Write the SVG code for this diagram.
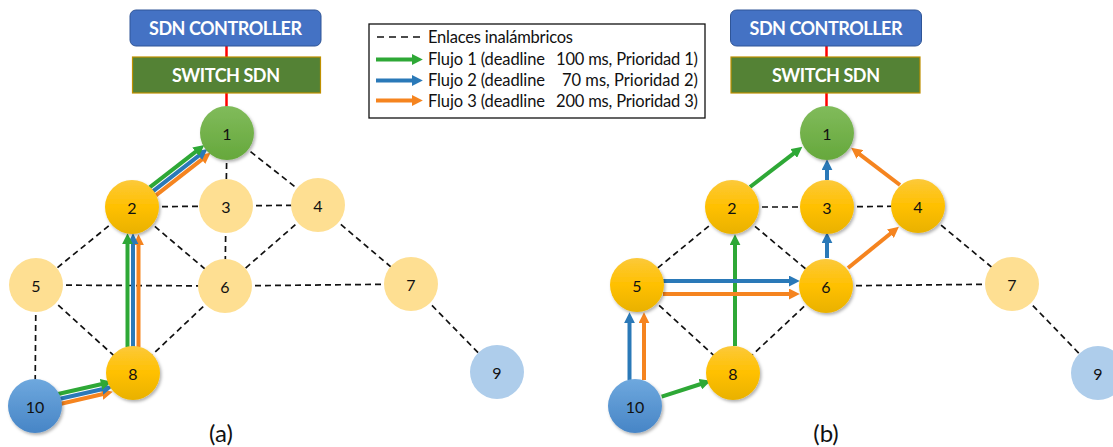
<svg xmlns="http://www.w3.org/2000/svg" width="1113" height="447" viewBox="0 0 1113 447">
  <style>
    text { font-family: Lato, "Open Sans", "Liberation Sans", sans-serif; }
    .ctl { fill: #4472C4; stroke: #2F5597; stroke-width: 1; }
    .sw { fill: #548235; stroke: #BF9000; stroke-width: 1.2; }
    .boxtxt { fill: #ffffff; font-weight: bold; font-size: 18px; text-anchor: middle; }
    .uplink { stroke: #FF0000; stroke-width: 2.5; }
    .wl { stroke: #111; stroke-width: 1.7; stroke-dasharray: 6 4; fill: none; }
    .num { font-size: 16px; fill: #111; text-anchor: middle; dominant-baseline: central; }
    .lg { font-size: 16.5px; fill: #111; }
    .f1 { stroke: #2EA836; stroke-width: 4; marker-end: url(#hg); }
    .f2 { stroke: #2A79B8; stroke-width: 4; marker-end: url(#hb); }
    .f3 { stroke: #F5841F; stroke-width: 4; marker-end: url(#ho); }
    .pale { fill: #FEDF92; }
    .pblue { fill: #AECDEB; }
    .gold { fill: url(#gGold); filter: url(#sh); }
    .green { fill: url(#gGreen); filter: url(#sh); }
    .blue { fill: url(#gBlue); filter: url(#sh); }
    .cap { font-size: 24px; fill: #111; text-anchor: middle; }
  </style>
  <defs>
    <linearGradient id="gGold" x1="0" y1="0" x2="0" y2="1">
      <stop offset="0" stop-color="#FCC93A"/>
      <stop offset="0.5" stop-color="#FFC000"/>
      <stop offset="1" stop-color="#E9B103"/>
    </linearGradient>
    <linearGradient id="gGreen" x1="0" y1="0" x2="0" y2="1">
      <stop offset="0" stop-color="#81BB5B"/>
      <stop offset="1" stop-color="#66A83C"/>
    </linearGradient>
    <linearGradient id="gBlue" x1="0" y1="0" x2="0" y2="1">
      <stop offset="0" stop-color="#6EA8DE"/>
      <stop offset="1" stop-color="#4785C6"/>
    </linearGradient>
    <filter id="sh" x="-30%" y="-30%" width="160%" height="160%">
      <feDropShadow dx="1.5" dy="2" stdDeviation="1.5" flood-color="#000" flood-opacity="0.3"/>
    </filter>
    <marker id="hg" viewBox="0 0 10 10" markerUnits="userSpaceOnUse" markerWidth="11" markerHeight="11" refX="2" refY="5" orient="auto">
      <path d="M0,0 L10,5 L0,10 z" fill="#2EA836"/>
    </marker>
    <marker id="hb" viewBox="0 0 10 10" markerUnits="userSpaceOnUse" markerWidth="11" markerHeight="11" refX="2" refY="5" orient="auto">
      <path d="M0,0 L10,5 L0,10 z" fill="#2A79B8"/>
    </marker>
    <marker id="ho" viewBox="0 0 10 10" markerUnits="userSpaceOnUse" markerWidth="11" markerHeight="11" refX="2" refY="5" orient="auto">
      <path d="M0,0 L10,5 L0,10 z" fill="#F5841F"/>
    </marker>
  </defs>

  <rect width="1113" height="447" fill="#ffffff"/>

  <!-- legend -->
  <g id="legend">
    <rect x="369" y="24" width="336" height="94" fill="#ffffff" stroke="#111" stroke-width="1.3"/>
    <line x1="377" y1="37" x2="422" y2="37" stroke="#111" stroke-width="1.5" stroke-dasharray="7 5"/>
    <text class="lg" x="428" y="42.5" textLength="145">Enlaces inalámbricos</text>
    <line x1="376" y1="59.5" x2="414" y2="59.5" class="f1"/>
    <text class="lg" x="428" y="65" textLength="117">Flujo 1 (deadline</text>
    <text class="lg" x="698" y="65" text-anchor="end" textLength="142">100 ms, Prioridad 1)</text>
    <line x1="376" y1="80.5" x2="414" y2="80.5" class="f2"/>
    <text class="lg" x="428" y="86" textLength="117">Flujo 2 (deadline</text>
    <text class="lg" x="698" y="86" text-anchor="end" textLength="136">70 ms, Prioridad 2)</text>
    <line x1="376" y1="100.5" x2="414" y2="100.5" class="f3"/>
    <text class="lg" x="428" y="106.5" textLength="117">Flujo 3 (deadline</text>
    <text class="lg" x="698" y="106.5" text-anchor="end" textLength="142">200 ms, Prioridad 3)</text>
  </g>

  <g id="connectors">
    <!-- wired uplinks -->
    <line class="uplink" x1="226.5" y1="46" x2="226.5" y2="57"/>
    <line class="uplink" x1="226.5" y1="93" x2="226.5" y2="107"/>
    <line class="uplink" x1="826.5" y1="46" x2="826.5" y2="57"/>
    <line class="uplink" x1="826.5" y1="93" x2="826.5" y2="107"/>

    <!-- wireless links, topology (a) -->
    <line class="wl" x1="227" y1="133" x2="226" y2="206"/>
    <line class="wl" x1="227" y1="133" x2="318" y2="205"/>
    <line class="wl" x1="132" y1="207" x2="226" y2="206"/>
    <line class="wl" x1="226" y1="206" x2="318" y2="205"/>
    <line class="wl" x1="226" y1="206" x2="225" y2="286"/>
    <line class="wl" x1="132" y1="207" x2="36" y2="285"/>
    <line class="wl" x1="132" y1="207" x2="225" y2="286"/>
    <line class="wl" x1="318" y1="205" x2="225" y2="286"/>
    <line class="wl" x1="318" y1="205" x2="411" y2="284"/>
    <line class="wl" x1="36" y1="285" x2="225" y2="286"/>
    <line class="wl" x1="225" y1="286" x2="411" y2="284"/>
    <line class="wl" x1="36" y1="285" x2="133" y2="373"/>
    <line class="wl" x1="36" y1="285" x2="35" y2="406"/>
    <line class="wl" x1="225" y1="286" x2="133" y2="373"/>
    <line class="wl" x1="411" y1="284" x2="497" y2="372"/>

    <!-- wireless links, topology (b) -->
    <line class="wl" x1="732" y1="207" x2="827" y2="207"/>
    <line class="wl" x1="827" y1="207" x2="918" y2="206"/>
    <line class="wl" x1="732" y1="207" x2="637" y2="285"/>
    <line class="wl" x1="732" y1="207" x2="826" y2="286"/>
    <line class="wl" x1="918" y1="206" x2="1012" y2="284"/>
    <line class="wl" x1="826" y1="286" x2="1012" y2="284"/>
    <line class="wl" x1="637" y1="285" x2="733" y2="373"/>
    <line class="wl" x1="826" y1="286" x2="733" y2="373"/>
    <line class="wl" x1="1012" y1="284" x2="1098" y2="373"/>

    <!-- flows (a): 10 -> 8 -> 2 -> 1 -->
    <line class="f3" x1="60" y1="404" x2="104.2" y2="393.8"/>
    <line class="f2" x1="59" y1="399" x2="104.2" y2="388.8"/>
    <line class="f1" x1="58" y1="394" x2="103.2" y2="383.8"/>

    <line class="f3" x1="138.5" y1="347" x2="138.5" y2="243"/>
    <line class="f2" x1="133" y1="347" x2="133" y2="242"/>
    <line class="f1" x1="127.5" y1="347" x2="127.5" y2="242"/>

    <line class="f3" x1="155.9" y1="195.3" x2="203.6" y2="158.2"/>
    <line class="f2" x1="152.8" y1="191.4" x2="200.5" y2="154.3"/>
    <line class="f1" x1="149.7" y1="187.4" x2="197.4" y2="150.4"/>

    <!-- flows (b) -->
    <line class="f1" x1="661.7" y1="396.7" x2="702.4" y2="383.5"/>
    <line class="f1" x1="735" y1="346" x2="735" y2="243"/>
    <line class="f1" x1="750" y1="187" x2="795.4" y2="152.2"/>
    <line class="f2" x1="629.5" y1="380" x2="629.5" y2="321"/>
    <line class="f3" x1="644" y1="380" x2="644" y2="321"/>
    <line class="f2" x1="663" y1="281" x2="791" y2="281"/>
    <line class="f3" x1="663" y1="294" x2="791" y2="294"/>
    <line class="f2" x1="827" y1="258" x2="827" y2="241"/>
    <line class="f2" x1="827" y1="180" x2="827" y2="168"/>
    <line class="f3" x1="848" y1="268" x2="892.1" y2="232.3"/>
    <line class="f3" x1="900" y1="185" x2="858.1" y2="153.1"/>
  </g>

  <!-- controller and switch, (a) -->
  <g id="a-controller">
    <rect class="ctl" x="130" y="10" width="191" height="36" rx="6"/>
    <text class="boxtxt" x="225.5" y="35" textLength="153">SDN CONTROLLER</text>
  </g>
  <g id="a-switch">
    <rect class="sw" x="132.5" y="57" width="188" height="36"/>
    <text class="boxtxt" x="226" y="82" textLength="108">SWITCH SDN</text>
  </g>

  <!-- nodes, (a) -->
  <g id="a-n1"><circle class="green" cx="227" cy="133" r="27"/><text class="num" x="227" y="133">1</text></g>
  <g id="a-n2"><circle class="gold" cx="132" cy="207" r="27"/><text class="num" x="132" y="207">2</text></g>
  <g id="a-n3"><circle class="pale" cx="226" cy="206" r="27"/><text class="num" x="226" y="206">3</text></g>
  <g id="a-n4"><circle class="pale" cx="318" cy="205" r="27"/><text class="num" x="318" y="205">4</text></g>
  <g id="a-n5"><circle class="pale" cx="36" cy="285" r="27"/><text class="num" x="36" y="285">5</text></g>
  <g id="a-n6"><circle class="pale" cx="225" cy="286" r="27"/><text class="num" x="225" y="286">6</text></g>
  <g id="a-n7"><circle class="pale" cx="411" cy="284" r="27"/><text class="num" x="411" y="284">7</text></g>
  <g id="a-n8"><circle class="gold" cx="133" cy="373" r="27"/><text class="num" x="133" y="373">8</text></g>
  <g id="a-n9"><circle class="pblue" cx="497" cy="372" r="27"/><text class="num" x="497" y="372">9</text></g>
  <g id="a-n10"><circle class="blue" cx="35" cy="406" r="27"/><text class="num" x="35" y="406">10</text></g>
  <text class="cap" x="221" y="442">(a)</text>

  <!-- controller and switch, (b) -->
  <g id="b-controller">
    <rect class="ctl" x="730.5" y="10" width="191" height="36" rx="6"/>
    <text class="boxtxt" x="826" y="35" textLength="153">SDN CONTROLLER</text>
  </g>
  <g id="b-switch">
    <rect class="sw" x="731" y="57" width="189" height="36"/>
    <text class="boxtxt" x="826" y="82" textLength="108">SWITCH SDN</text>
  </g>

  <!-- nodes, (b) -->
  <g id="b-n1"><circle class="green" cx="827" cy="133" r="27"/><text class="num" x="827" y="133">1</text></g>
  <g id="b-n2"><circle class="gold" cx="732" cy="207" r="27"/><text class="num" x="732" y="207">2</text></g>
  <g id="b-n3"><circle class="gold" cx="827" cy="207" r="27"/><text class="num" x="827" y="207">3</text></g>
  <g id="b-n4"><circle class="gold" cx="918" cy="206" r="27"/><text class="num" x="918" y="206">4</text></g>
  <g id="b-n5"><circle class="gold" cx="637" cy="285" r="27"/><text class="num" x="637" y="285">5</text></g>
  <g id="b-n6"><circle class="gold" cx="826" cy="286" r="27"/><text class="num" x="826" y="286">6</text></g>
  <g id="b-n7"><circle class="pale" cx="1012" cy="284" r="27"/><text class="num" x="1012" y="284">7</text></g>
  <g id="b-n8"><circle class="gold" cx="733" cy="373" r="27"/><text class="num" x="733" y="373">8</text></g>
  <g id="b-n9"><circle class="pblue" cx="1098" cy="373" r="27"/><text class="num" x="1098" y="373">9</text></g>
  <g id="b-n10"><circle class="blue" cx="635" cy="406" r="27"/><text class="num" x="635" y="406">10</text></g>
  <text class="cap" x="826" y="442">(b)</text>
</svg>
